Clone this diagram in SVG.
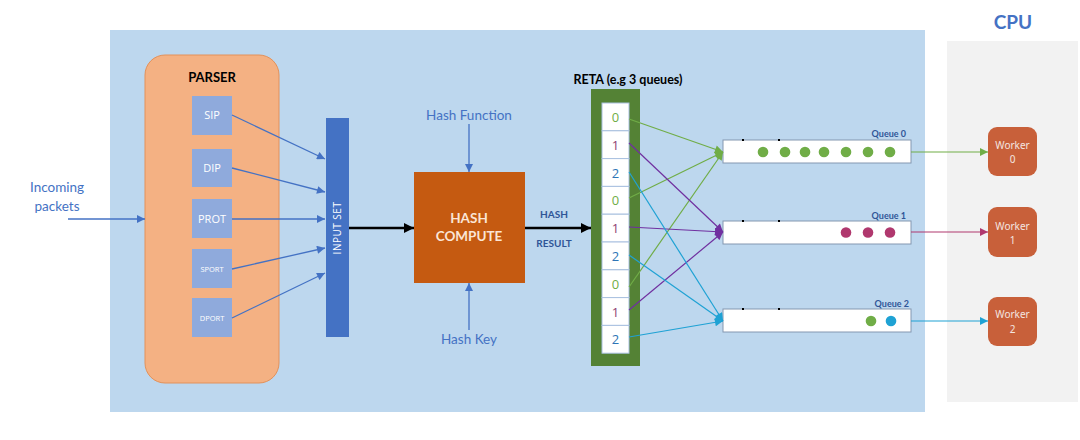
<svg xmlns="http://www.w3.org/2000/svg" width="1080" height="440" viewBox="0 0 1080 440">
<defs>
<style>
.t{font-family:Lato,"Open Sans","Liberation Sans",sans-serif}
.lbl{font-family:Lato,"Open Sans","Liberation Sans",sans-serif;fill:#4472c4;font-size:13.5px;text-anchor:middle}
.fld{fill:#8faadc}
.fldt{font-family:"Open Sans","Liberation Sans",sans-serif;fill:#fff;text-anchor:middle}
.cell{fill:#fff;stroke:#a9c0e0;stroke-width:1}
.cellt{font-family:"Open Sans","Liberation Sans",sans-serif;font-size:13px;text-anchor:middle}
.q{fill:#fff;stroke:#8497b0;stroke-width:1}
.qt{font-family:Lato,"Liberation Sans",sans-serif;font-weight:bold;font-size:9px;fill:#2f5597;text-anchor:end}
.wk{fill:#c8603a}
.wkt{font-family:"Noto Sans","Liberation Sans",sans-serif;font-size:10px;fill:#f4e6e0;text-anchor:middle}
.blu{stroke:#4472c4;stroke-width:1.3;fill:none}
.blk{stroke:#000;stroke-width:2.5;fill:none}
.g{stroke:#70ad47;stroke-width:1.2;fill:none}
.p{stroke:#7030a0;stroke-width:1.2;fill:none}
.c{stroke:#1fa2d4;stroke-width:1.2;fill:none}
.m{stroke:#b0386e;stroke-width:1.2;fill:none}
</style>
<marker id="ab" viewBox="0 0 10 10" refX="10" refY="5" markerWidth="9" markerHeight="8" markerUnits="userSpaceOnUse" orient="auto"><path d="M0,0L10,5L0,10z" fill="#4472c4"/></marker>
<marker id="ak" viewBox="0 0 10 10" refX="10" refY="5" markerWidth="11" markerHeight="10" markerUnits="userSpaceOnUse" orient="auto"><path d="M0,0L10,5L0,10z" fill="#000"/></marker>
<marker id="ag" viewBox="0 0 10 10" refX="10" refY="5" markerWidth="9" markerHeight="8" markerUnits="userSpaceOnUse" orient="auto"><path d="M0,0L10,5L0,10z" fill="#70ad47"/></marker>
<marker id="ap" viewBox="0 0 10 10" refX="10" refY="5" markerWidth="9" markerHeight="8" markerUnits="userSpaceOnUse" orient="auto"><path d="M0,0L10,5L0,10z" fill="#7030a0"/></marker>
<marker id="ac" viewBox="0 0 10 10" refX="10" refY="5" markerWidth="9" markerHeight="8" markerUnits="userSpaceOnUse" orient="auto"><path d="M0,0L10,5L0,10z" fill="#1fa2d4"/></marker>
<marker id="am" viewBox="0 0 10 10" refX="10" refY="5" markerWidth="9" markerHeight="8" markerUnits="userSpaceOnUse" orient="auto"><path d="M0,0L10,5L0,10z" fill="#b0386e"/></marker>
</defs>
<rect width="1080" height="440" fill="#fff"/>
<rect x="110" y="30" width="815" height="382" fill="#bdd7ee"/>
<rect x="947" y="41" width="131" height="361" fill="#f2f2f2"/>
<text class="t" x="1013" y="29" font-size="19" font-weight="bold" fill="#4472c4" text-anchor="middle">CPU</text>

<g id="incoming"><text class="lbl" x="57" y="192">Incoming</text><text class="lbl" x="57" y="211">packets</text></g>

<g id="parser">
<rect x="145" y="55" width="134" height="328" rx="20" fill="#f4b183" stroke="#e3915a" stroke-width="1"/>
<text class="t" x="212" y="82" font-size="13" font-weight="bold" fill="#000" text-anchor="middle">PARSER</text>
</g>
<g id="sip"><rect class="fld" x="192" y="96" width="40" height="39"/><text class="fldt" x="212" y="119" font-size="11">SIP</text></g>
<g id="dip"><rect class="fld" x="192" y="149" width="40" height="38"/><text class="fldt" x="212" y="172" font-size="11">DIP</text></g>
<g id="prot"><rect class="fld" x="192" y="199" width="40" height="39"/><text class="fldt" x="212" y="223" font-size="11">PROT</text></g>
<g id="sport"><rect class="fld" x="192" y="249" width="40" height="39"/><text class="fldt" x="212" y="272" font-size="7.5">SPORT</text></g>
<g id="dport"><rect class="fld" x="192" y="298" width="40" height="39"/><text class="fldt" x="212" y="321" font-size="7.5">DPORT</text></g>

<g id="inputset"><rect x="326" y="118" width="23" height="219" fill="#4472c4"/>
<text class="fldt" transform="translate(341,228) rotate(-90)" font-size="10" letter-spacing="0.5">INPUT SET</text></g>

<g id="hashcompute"><rect x="414" y="172" width="111" height="111" fill="#c55a11"/>
<text class="t" x="469" y="223" font-size="13.5" font-weight="bold" fill="#fbe5d6" text-anchor="middle">HASH</text>
<text class="t" x="469" y="241" font-size="13.5" font-weight="bold" fill="#fbe5d6" text-anchor="middle">COMPUTE</text></g>
<g id="hashfunction"><text class="lbl" x="469" y="120">Hash Function</text></g>
<g id="hashkey"><text class="lbl" x="469" y="344">Hash Key</text></g>
<g id="hashresult"><text class="t" x="554" y="218" font-size="10" font-weight="bold" fill="#2f5597" text-anchor="middle">HASH</text>
<text class="t" x="554" y="247" font-size="10" font-weight="bold" fill="#2f5597" text-anchor="middle">RESULT</text></g>

<g id="reta">
<text class="t" x="628" y="84" font-size="12.5" font-weight="bold" fill="#000" text-anchor="middle">RETA (e.g 3 queues)</text>
<rect x="591" y="89" width="49" height="277" fill="#548235"/>
<rect class="cell" x="602" y="103" width="27" height="27.8"/><text class="cellt" x="615.5" y="122" fill="#70ad47">0</text>
<rect class="cell" x="602" y="130.8" width="27" height="27.8"/><text class="cellt" x="615.5" y="149.5" fill="#8e3f74">1</text>
<rect class="cell" x="602" y="158.6" width="27" height="27.8"/><text class="cellt" x="615.5" y="177.5" fill="#2e75b6">2</text>
<rect class="cell" x="602" y="186.4" width="27" height="27.8"/><text class="cellt" x="615.5" y="205" fill="#70ad47">0</text>
<rect class="cell" x="602" y="214.2" width="27" height="27.8"/><text class="cellt" x="615.5" y="233" fill="#8e3f74">1</text>
<rect class="cell" x="602" y="242" width="27" height="27.8"/><text class="cellt" x="615.5" y="261" fill="#2e75b6">2</text>
<rect class="cell" x="602" y="269.8" width="27" height="27.8"/><text class="cellt" x="615.5" y="288.5" fill="#70ad47">0</text>
<rect class="cell" x="602" y="297.6" width="27" height="27.8"/><text class="cellt" x="615.5" y="316.5" fill="#8e3f74">1</text>
<rect class="cell" x="602" y="325.4" width="27" height="27.8"/><text class="cellt" x="615.5" y="344" fill="#2e75b6">2</text>
</g>

<g id="queue0"><rect class="q" x="723" y="140" width="188" height="23"/>
<rect x="742" y="139" width="2" height="2" fill="#000"/><rect x="778" y="139" width="2" height="2" fill="#000"/>
<text class="qt" x="906" y="137">Queue 0</text>
<g fill="#70ad47"><circle cx="763" cy="152" r="5.3"/><circle cx="785" cy="152" r="5.3"/><circle cx="805" cy="152" r="5.3"/><circle cx="824" cy="152" r="5.3"/><circle cx="846" cy="152" r="5.3"/><circle cx="868" cy="152" r="5.3"/><circle cx="890" cy="152" r="5.3"/></g></g>
<g id="queue1"><rect class="q" x="723" y="221" width="188" height="23"/>
<rect x="742" y="220" width="2" height="2" fill="#000"/><rect x="778" y="220" width="2" height="2" fill="#000"/>
<text class="qt" x="906" y="219">Queue 1</text>
<g fill="#b0386e"><circle cx="846" cy="232.5" r="5.3"/><circle cx="868" cy="232.5" r="5.3"/><circle cx="890" cy="232.5" r="5.3"/></g></g>
<g id="queue2"><rect class="q" x="723" y="309" width="188" height="23"/>
<rect x="742" y="308" width="2" height="2" fill="#000"/><rect x="778" y="308" width="2" height="2" fill="#000"/>
<text class="qt" x="909" y="307">Queue 2</text>
<circle cx="871" cy="321" r="5.3" fill="#70ad47"/><circle cx="891" cy="321" r="5.3" fill="#1fa2d4"/></g>

<g id="worker0"><rect class="wk" x="988" y="127" width="49" height="49" rx="9"/><text class="wkt" x="1012.5" y="149">Worker</text><text class="wkt" x="1012.5" y="163">0</text></g>
<g id="worker1"><rect class="wk" x="988" y="207" width="49" height="50" rx="9"/><text class="wkt" x="1012.5" y="230">Worker</text><text class="wkt" x="1012.5" y="244">1</text></g>
<g id="worker2"><rect class="wk" x="988" y="297" width="49" height="49" rx="9"/><text class="wkt" x="1012.5" y="318">Worker</text><text class="wkt" x="1012.5" y="333">2</text></g>

<g id="connectors">
<line class="blu" x1="68" y1="219" x2="145" y2="219" marker-end="url(#ab)"/>
<line class="blu" x1="232" y1="115" x2="325" y2="159" marker-end="url(#ab)"/>
<line class="blu" x1="232" y1="168" x2="325" y2="192" marker-end="url(#ab)"/>
<line class="blu" x1="232" y1="219" x2="325" y2="219" marker-end="url(#ab)"/>
<line class="blu" x1="232" y1="269" x2="325" y2="248" marker-end="url(#ab)"/>
<line class="blu" x1="232" y1="318" x2="325" y2="273" marker-end="url(#ab)"/>
<line class="blk" x1="349" y1="228" x2="414" y2="228" marker-end="url(#ak)"/>
<line class="blu" x1="469" y1="124" x2="469" y2="172" marker-end="url(#ab)"/>
<line class="blu" x1="469" y1="330" x2="469" y2="283" marker-end="url(#ab)"/>
<line class="blk" x1="525" y1="228" x2="591" y2="228" marker-end="url(#ak)"/>
<line class="g" x1="629" y1="119" x2="723" y2="152" marker-end="url(#ag)"/>
<line class="g" x1="629" y1="198" x2="723" y2="152" marker-end="url(#ag)"/>
<line class="g" x1="629" y1="287" x2="723" y2="152" marker-end="url(#ag)"/>
<line class="p" x1="629" y1="143" x2="723" y2="232" marker-end="url(#ap)"/>
<line class="p" x1="629" y1="227" x2="723" y2="232" marker-end="url(#ap)"/>
<line class="p" x1="629" y1="310" x2="723" y2="232" marker-end="url(#ap)"/>
<line class="c" x1="629" y1="172" x2="723" y2="321" marker-end="url(#ac)"/>
<line class="c" x1="629" y1="255" x2="723" y2="321" marker-end="url(#ac)"/>
<line class="c" x1="629" y1="337" x2="723" y2="321" marker-end="url(#ac)"/>
<line class="g" x1="911" y1="152" x2="988" y2="152" marker-end="url(#ag)"/>
<line class="m" x1="911" y1="232" x2="988" y2="232" marker-end="url(#am)"/>
<line class="c" x1="911" y1="321" x2="988" y2="321" marker-end="url(#ac)"/>
</g>
</svg>
